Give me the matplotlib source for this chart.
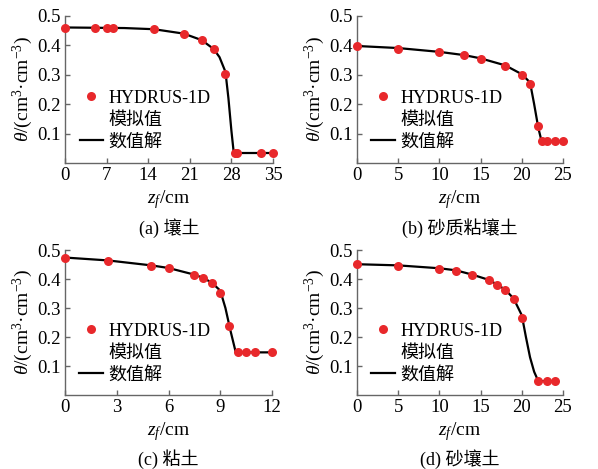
import matplotlib
matplotlib.use("Agg")
import matplotlib.pyplot as plt
from matplotlib.lines import Line2D

plt.rcParams['font.family'] = ['Liberation Serif', 'Noto Sans CJK SC']
plt.rcParams['mathtext.fontset'] = 'custom'
plt.rcParams['mathtext.rm'] = 'Liberation Serif'
plt.rcParams['mathtext.it'] = 'Liberation Serif:italic'

# ---------------- data ---------------- #
# (a) 壤土
za_pts = [0, 5, 7, 8, 15, 20, 23, 25, 27, 28.6, 29, 33, 35]
ta_pts = [0.460, 0.460, 0.460, 0.460, 0.455, 0.440, 0.418, 0.387, 0.303, 0.034, 0.034, 0.034, 0.034]
za_line = [0, 5, 10, 15, 20, 23, 25, 26, 27, 27.5, 28, 28.4, 35]
ta_line = [0.461, 0.460, 0.459, 0.455, 0.440, 0.418, 0.388, 0.36, 0.31, 0.22, 0.11, 0.034, 0.034]

# (b) 砂质粘壤土
zb_pts = [0, 5, 10, 13, 15, 18, 20, 21, 22, 22.5, 23, 24, 25]
tb_pts = [0.398, 0.389, 0.377, 0.366, 0.355, 0.331, 0.299, 0.268, 0.126, 0.074, 0.074, 0.074, 0.074]
zb_line = [0, 5, 10, 13, 15, 18, 20, 21, 21.5, 22, 22.4, 25]
tb_line = [0.398, 0.391, 0.378, 0.367, 0.356, 0.332, 0.302, 0.274, 0.20, 0.12, 0.074, 0.074]

# (c) 粘土
zc_pts = [0, 2.5, 5, 6, 7.5, 8, 8.5, 9, 9.5, 10, 10.5, 11, 12]
tc_pts = [0.474, 0.463, 0.446, 0.437, 0.414, 0.403, 0.386, 0.353, 0.239, 0.147, 0.147, 0.147, 0.147]
zc_line = [0, 2.5, 5, 6, 7.5, 8, 8.5, 9, 9.3, 9.6, 9.9, 12]
tc_line = [0.474, 0.464, 0.447, 0.438, 0.415, 0.404, 0.388, 0.360, 0.30, 0.22, 0.147, 0.147]

# (d) 砂壤土
zd_pts = [0, 5, 10, 12, 14, 16, 17, 18, 19, 20, 22, 23, 24]
td_pts = [0.451, 0.446, 0.436, 0.429, 0.414, 0.396, 0.380, 0.362, 0.331, 0.267, 0.048, 0.048, 0.048]
zd_line = [0, 5, 10, 12, 14, 16, 17, 18, 19, 20, 20.5, 21, 21.5, 22, 24]
td_line = [0.451, 0.447, 0.437, 0.430, 0.415, 0.397, 0.381, 0.363, 0.333, 0.275, 0.20, 0.13, 0.08, 0.048, 0.048]

panels = [
    (za_pts, ta_pts, za_line, ta_line, [0, 7, 14, 21, 28, 35], '(a) 壤土'),
    (zb_pts, tb_pts, zb_line, tb_line, [0, 5, 10, 15, 20, 25], '(b) 砂质粘壤土'),
    (zc_pts, tc_pts, zc_line, tc_line, [0, 3, 6, 9, 12], '(c) 粘土'),
    (zd_pts, td_pts, zd_line, td_line, [0, 5, 10, 15, 20, 25], '(d) 砂壤土'),
]

# axes boxes in pixels: left, top, right, bottom
boxes = [(65, 16, 273, 163), (357, 16, 563, 163),
         (65, 250, 272, 395), (357, 250, 563, 395)]

W, H = 598, 469
red = '#e8282b'
gray = '#666666'

fig = plt.figure(figsize=(W / 100, H / 100), dpi=100)

for (zp, tp, zl, tl, xt, cap), (l, t, r, b) in zip(panels, boxes):
    ax = fig.add_axes([l / W, (H - b) / H, (r - l) / W, (b - t) / H])
    ax.plot(zl, tl, color='black', lw=1.6, zorder=2)
    ax.plot(zp, tp, 'o', color=red, ms=6.5, mec='none', zorder=3, clip_on=False)
    ax.set_xlim(xt[0], xt[-1])
    ax.set_ylim(0, 0.5)
    ax.set_xticks(xt)
    ax.set_yticks([0.1, 0.2, 0.3, 0.4, 0.5])
    for s in ['top', 'right']:
        ax.spines[s].set_visible(False)
    for s in ['left', 'bottom']:
        ax.spines[s].set_color(gray)
        ax.spines[s].set_linewidth(1.0)
    ax.tick_params(direction='in', length=3.5, width=1.0, color=gray,
                   labelsize=13.5, pad=3)
    ax.set_xlabel(r'$z_f$/cm', fontsize=14, labelpad=3)
    ax.set_ylabel(r'$\theta$/(cm$^3$·cm$^{-3}$)', fontsize=14, labelpad=2)
    ax.text(0.5, -0.44, cap, transform=ax.transAxes, ha='center', va='center',
            fontsize=13)

    handles = [Line2D([], [], ls='none', marker='o', color=red, ms=6.5, mec='none'),
               Line2D([], [], ls='none'),
               Line2D([], [], color='black', lw=1.6)]
    ax.legend(handles, ['HYDRUS-1D', '模拟值', '数值解'], frameon=False,
              loc='upper left', bbox_to_anchor=(0.07, 0.50), fontsize=13,
              handlelength=1.3, handletextpad=0.3, labelspacing=0.28,
              borderaxespad=0, borderpad=0)

fig.savefig('out.png', dpi=100)
